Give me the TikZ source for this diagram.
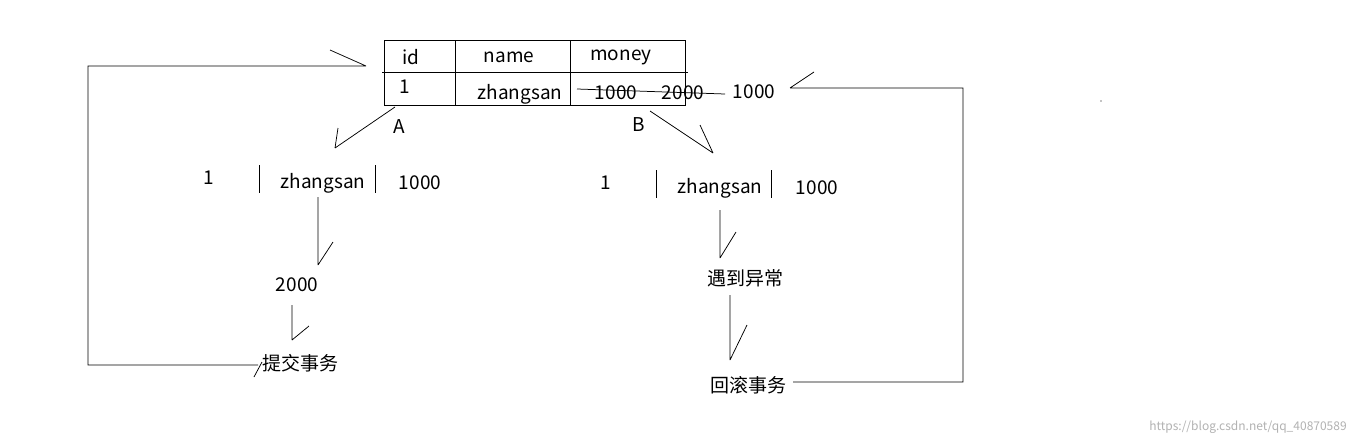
\documentclass[tikz,border=0pt]{standalone}
\usepackage{fontspec}
\setmainfont{Noto Sans CJK SC}
\begin{document}
\begin{tikzpicture}[x=1pt,y=-1pt,line width=0.75pt,
  lbl/.style={font=\fontsize{19}{21}\selectfont,inner sep=0pt},
  ln/.style={draw=black}]
\useasboundingbox (0,0) rectangle (1360,445);
\fill[white] (0,0) rectangle (1360,445);
% table
\draw (384,40) rectangle (685,105);
\draw (382,72) -- (688,72);
\draw (455,40) -- (455,105);
\draw (570,40) -- (570,105);
\node[lbl] (hid) at (411,57) {id};
\node[lbl] (hname) at (509,57) {name};
\node[lbl] (hmoney) at (621,57) {money};
\node[lbl] (c1) at (405,87) {1};
\node[lbl] (cname) at (520,94) {zhangsan};
\node[lbl] (m1) at (616,93) {1000};
\node[lbl] (m2) at (683,93) {2000};
\node[lbl] (m3) at (754,92) {1000};
\draw (577,89) -- (725,94);
\node[lbl] (A) at (399,127) {A};
\node[lbl] (B) at (639,125) {B};
% A arrow
\coordinate (a0) at (395,107); \coordinate (a1) at (335,148);
\draw (a0) -- (a1) (338,128) -- (a1);
% B arrow
\coordinate (b0) at (650,111); \coordinate (b1) at (713,153);
\draw (b0) -- (b1) (700,125) -- (b1);
% left rows
\node[lbl] (l1) at (209,178) {1};
\draw (259,165) -- (259,193);
\node[lbl] (lname) at (323,183) {zhangsan};
\draw (375,165) -- (375,193);
\node[lbl] (lm) at (420,183) {1000};
\node[lbl] (r1) at (606,183) {1};
\draw (656,170) -- (656,198);
\node[lbl] (rname) at (720,188) {zhangsan};
\draw (771,170) -- (771,198);
\node[lbl] (rm) at (817,188) {1000};
% left chain
\node[lbl] (l2000) at (297,285) {2000};
\node[lbl] (commit) at (300,363) {提交事务};
\draw (318,197) -- (318,265) (333,242) -- (318,265);
\draw (292,305) -- (292,340) (309,326) -- (292,340);
% right chain
\node[lbl] (exc) at (745,278) {遇到异常};
\node[lbl] (rb) at (748,385) {回滚事务};
\draw (720,210) -- (720,258) (736,232) -- (720,258);
\draw (730,295) -- (730,360) (747,325) -- (730,360);
% big loops
\coordinate (t1) at (366,66);
\draw (258,365) -- (88,365) -- (88,66) -- (t1) (330,50) -- (t1);
\draw (254,377) -- (262,362);
\coordinate (t2) at (790,88);
\draw (793,382) -- (963,382) -- (963,88) -- (t2) (814,72) -- (t2);
\fill (1101,101) circle (0.6);
\node[font=\fontsize{12}{14}\selectfont,text=gray!60,inner sep=0pt] (wm) at (1248,427) {https://blog.csdn.net/qq\_40870589};
\end{tikzpicture}
\end{document}
